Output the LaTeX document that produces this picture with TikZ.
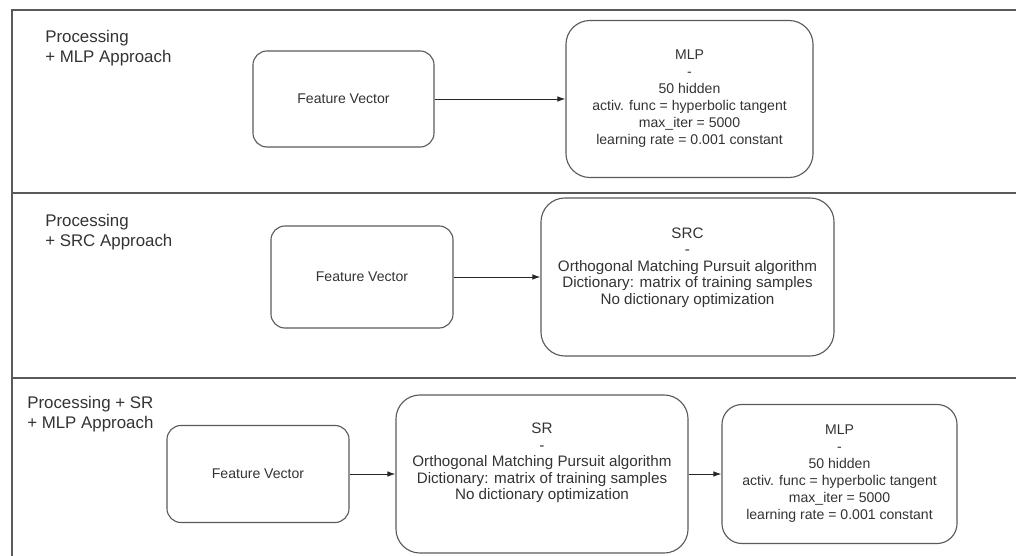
\documentclass[tikz,border=0pt]{standalone}
\usepackage{fontspec}
\setmainfont{Liberation Sans}
\usepackage{tikz}
\usetikzlibrary{positioning,arrows.meta}
\definecolor{linegray}{HTML}{5A5A5A}
\definecolor{textgray}{HTML}{333333}

\begin{document}
\begin{tikzpicture}[x=0.025cm, y=-0.025cm, >={Latex[length=2mm,width=1.4mm]},
    box/.style={rectangle, draw=linegray, line width=0.8pt, align=center, text=textgray, font=\fontsize{10}{12.1}\selectfont, inner sep=0pt},
    srtext/.style={font=\fontsize{10.8}{11.7}\selectfont},
    title/.style={rectangle, align=left, anchor=north west, inner sep=0pt, text=textgray, font=\fontsize{12}{14.5}\selectfont},
    lane/.style={draw=linegray, line width=1pt},
    link/.style={->, draw=black!85, line width=0.7pt}]
    \useasboundingbox (0,0) rectangle (1016,556);

    % lanes
    \draw [lane] (1016,10) -- (12,10) -- (12,556);
    \draw [lane] (12,193) -- (1016,193);
    \draw [lane] (12,378) -- (1016,378);

    % MLP approach
    \node [title] (t1) at (45,30) {Processing\\+ MLP Approach};
    \node [box, rounded corners=0.35cm, minimum width=4.525cm, minimum height=2.4cm] (fv1) at (343.5,99) {Feature Vector};
    \node [box, rounded corners=0.6cm, minimum width=6.175cm, minimum height=3.925cm] (mlp1) at (689.5,99) {MLP\\-\\50 hidden\\activ. func = hyperbolic tangent\\max\_iter = 5000\\learning rate = 0.001 constant};
    \draw [link] (fv1) -- (mlp1);

    % SRC approach
    \node [title] (t2) at (45,214) {Processing\\+ SRC Approach};
    \node [box, rounded corners=0.35cm, minimum width=4.55cm, minimum height=2.55cm] (fv2) at (362,277) {Feature Vector};
    \node [box, srtext, rounded corners=0.6cm, minimum width=7.325cm, minimum height=3.95cm] (src) at (687.5,277) {SRC\\-\\Orthogonal Matching Pursuit algorithm\\Dictionary: matrix of training samples\\No dictionary optimization\\[4pt]};
    \draw [link] (fv2) -- (src);

    % SR + MLP approach
    \node [title] (t3) at (27,396) {Processing + SR\\+ MLP Approach};
    \node [box, rounded corners=0.35cm, minimum width=4.55cm, minimum height=2.425cm] (fv3) at (258,474) {Feature Vector};
    \node [box, srtext, rounded corners=0.6cm, minimum width=7.3cm, minimum height=3.95cm] (sr) at (542,474) {SR\\-\\Orthogonal Matching Pursuit algorithm\\Dictionary: matrix of training samples\\No dictionary optimization\\[6pt]};
    \node [box, rounded corners=0.5cm, minimum width=5.875cm, minimum height=3.475cm] (mlp3) at (839.5,474) {MLP\\-\\50 hidden\\activ. func = hyperbolic tangent\\max\_iter = 5000\\learning rate = 0.001 constant};
    \draw [link] (fv3) -- (sr);
    \draw [link] (sr) -- (mlp3);
\end{tikzpicture}
\end{document}
